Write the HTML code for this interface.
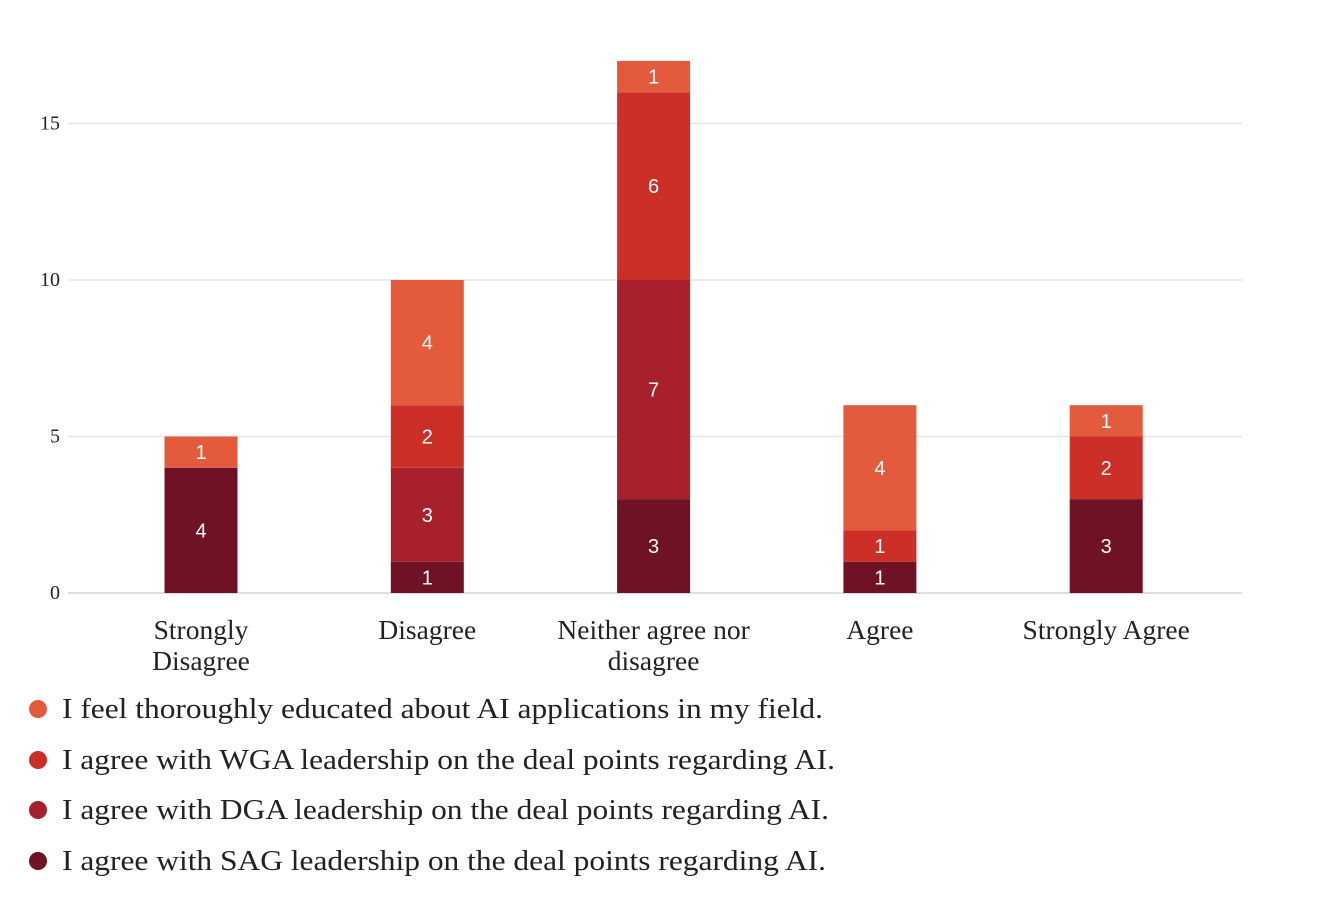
<!DOCTYPE html>
<html><head><meta charset="utf-8"><style>
body{margin:0;background:#fff;}
svg{display:block;}
text{font-family:"Liberation Serif",serif;fill:#222;}
.v{font-family:"Liberation Sans",sans-serif;fill:#fff;font-size:20px;}
</style></head><body>
<svg id="chart" width="1324" height="914" viewBox="0 0 1324 914"></svg>
<script>
const categories=[["Strongly","Disagree"],["Disagree"],["Neither agree nor","disagree"],["Agree"],["Strongly Agree"]];
const sag=[4,1,3,1,3];
const dga=[0,3,7,0,0];
const wga=[0,2,6,1,2];
const edu=[1,4,1,4,1];
const seriesNames=["I feel thoroughly educated about AI applications in my field.","I agree with WGA leadership on the deal points regarding AI.","I agree with DGA leadership on the deal points regarding AI.","I agree with SAG leadership on the deal points regarding AI."];
const yTicks=[0,5,10,15];
const NS="http://www.w3.org/2000/svg";
const svg=document.getElementById('chart');
const y0=593,pxPer=31.3;
const yScale=v=>y0-v*pxPer;
const xScale=i=>201+i*226.3;
const bw=73;
function mk(tag,attrs,parent){const e=document.createElementNS(NS,tag);for(const k in attrs)e.setAttribute(k,attrs[k]);(parent||svg).appendChild(e);return e;}
yTicks.forEach(t=>{
  const l=mk('line',{x1:68,x2:1242,y1:yScale(t),y2:yScale(t),stroke:t===0?'#ddd':'#e6e6e6','stroke-width':t===0?2:1.5});
  
  
  const tx=mk('text',{x:60,y:yScale(t)+6,'text-anchor':'end','font-size':20});
  tx.textContent=t;
  
  
});
const stack=[[sag,'#6f1226','sag'],[dga,'#a8202b','dga'],[wga,'#cc2e28','wga'],[edu,'#e35a3c','edu']];
categories.forEach((c,i)=>{
  let base=0;
  stack.forEach(([arr,col,nm])=>{
    const v=arr[i];if(!v)return;
    const r=mk('rect',{x:xScale(i)-bw/2,y:yScale(base+v),width:bw,height:v*pxPer,fill:col});
    
    
    const t=mk('text',{x:xScale(i),y:yScale(base+v/2)+7,'text-anchor':'middle',class:'v'});
    t.textContent=v;
    
    
    base+=v;
  });
  c.forEach((line,j)=>{
    const t=mk('text',{x:xScale(i),y:639+j*31,'text-anchor':'middle','font-size':27.5});
    t.textContent=line;
    
    
  });
});
const cols=['#e35a3c','#cc2e28','#a8202b','#6f1226'];
const ly=[709,760,810,861];
const lw=[761,773,767,764];
seriesNames.forEach((n,k)=>{
  const g=mk('g',{});
  
  
  mk('circle',{cx:38,cy:ly[k],r:9,fill:cols[k]},g);
  const t=mk('text',{x:62,y:ly[k]+9,'font-size':29,textLength:lw[k],lengthAdjust:'spacingAndGlyphs'},g);
  t.textContent=n;
});
</script>
</body></html>
